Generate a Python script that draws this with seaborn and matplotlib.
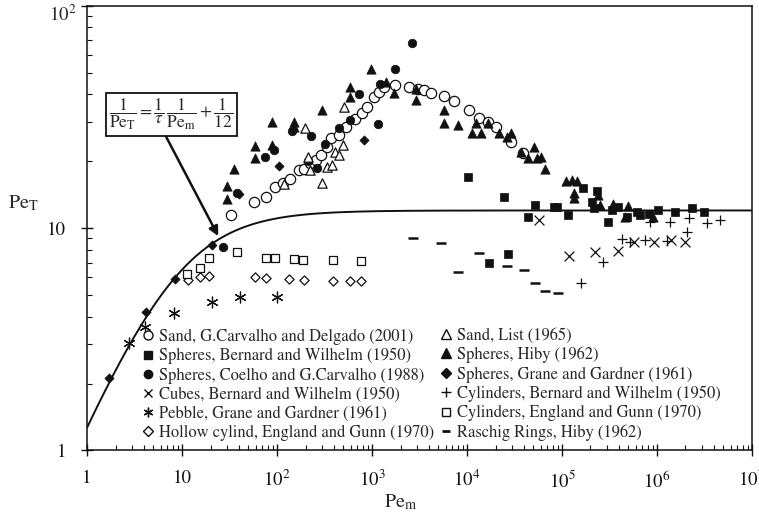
import numpy as np
import pandas as pd
import matplotlib
matplotlib.use("Agg")
import matplotlib.pyplot as plt
from matplotlib.lines import Line2D
from matplotlib.ticker import FixedLocator, FuncFormatter, NullFormatter
import seaborn as sns

# ---------------- data (Pe_m, Pe_T) ----------------
sand_gc_x = [32.8, 57.7, 77.1, 95.9, 117, 138, 172, 191, 224, 258, 291, 336, 373, 445, 536, 667, 785,
             886, 1040, 1173, 1324, 1759, 2427, 3092, 3548, 4178, 5768, 7228, 10570, 13250, 16870,
             20320, 29040, 39400]
sand_gc_y = [11.4, 13.1, 13.8, 15.3, 16.0, 16.7, 18.2, 18.4, 19.7, 20.2, 21.3, 23.1, 25.3, 26.2, 28.5,
             30.8, 33.0, 35.1, 38.9, 41.0, 42.9, 44.0, 42.9, 42.4, 41.7, 40.3, 39.2, 37.3, 33.9, 31.4,
             30.0, 28.4, 24.3, 21.7]

sand_list_x = [502, 199, 298, 336, 382, 119, 210, 224, 411, 445, 495]
sand_list_y = [35.1, 28.1, 16.0, 18.9, 19.2, 15.8, 20.9, 18.2, 22.0, 21.3, 23.6]

sph_bw_x = [10320, 24500, 52000, 43450, 81600, 88500, 116400, 166400, 233500, 206800, 218800, 305000,
            336000, 394000, 483000, 615000, 667000, 836000, 1040000, 1560000, 2335000, 3170000,
            27000, 17170]
sph_bw_y = [17.0, 13.8, 12.7, 11.2, 12.4, 12.5, 11.4, 15.2, 14.7, 13.1, 12.3, 10.6, 12.05, 12.5, 11.2,
            11.8, 11.4, 11.6, 12.1, 11.8, 12.3, 11.8, 7.62, 6.98]

sph_hiby_x = [984, 591, 591, 298, 88.6, 152, 152, 58.1, 58.1, 88.6, 35.5, 29.8, 29.8, 1403, 1718, 2926,
              2926, 5768, 5768, 8095, 12330, 11290, 14030, 16870, 22030, 26360, 29040, 37330, 50270,
              44490, 54550, 60110, 67150, 110900, 127400, 145900, 132500, 132500, 242700, 253000,
              349000, 502000, 463000, 921000]
sph_hiby_y = [51.7, 42.9, 38.9, 33.9, 29.9, 30.0, 28.5, 23.4, 20.7, 23.6, 18.4, 15.4, 13.5, 45.4, 40.6,
              42.0, 37.6, 33.9, 29.7, 29.2, 29.7, 26.7, 26.7, 29.7, 26.8, 25.7, 26.7, 22.0, 23.2, 20.6,
              20.6, 20.8, 18.5, 16.3, 16.4, 16.3, 14.4, 13.6, 14.1, 12.7, 12.8, 12.6, 11.2, 11.2]

sph_coelho_x = [27.0, 2655, 1746, 1223, 723, 1156, 445, 591, 317, 210, 264, 228, 144, 92, 75.3, 38.2]
sph_coelho_y = [8.24, 67.6, 51.8, 44.3, 40.0, 29.3, 28.1, 30.5, 24.0, 20.0, 18.7, 25.9, 27.4, 22.4,
                20.8, 14.4]

sph_grane_x = [1.72, 4.21, 8.36, 20.8, 105.7, 40.2, 832]
sph_grane_y = [2.11, 4.18, 5.90, 8.39, 19.0, 14.2, 24.9]

cubes_x = [56750, 119400, 224000, 394000, 581000, 937000, 1403000, 1986000]
cubes_y = [10.9, 7.51, 7.78, 7.88, 8.68, 8.68, 8.83, 8.68]

cyl_bw_x = [158500, 270000, 428000, 523000, 753000, 1274000, 2069000, 851000, 1380000, 2203000,
            3360000, 4637000]
cyl_bw_y = [5.64, 7.01, 8.93, 8.68, 8.83, 8.77, 9.56, 10.6, 10.6, 11.06, 10.5, 10.9]

pebble_x = [2.79, 4.04, 8.3, 20.7, 40.4, 100.7]
pebble_y = [3.03, 3.60, 4.14, 4.67, 4.91, 4.91]

cyl_eg_x = [11.4, 15.3, 19.2, 38.2, 75.9, 94.4, 152, 189, 385, 766]
cyl_eg_y = [6.23, 6.63, 7.35, 7.83, 7.35, 7.35, 7.26, 7.18, 7.20, 7.13]

hollow_x = [11.6, 15.6, 19.4, 58.7, 76.6, 135, 192, 388, 581, 771]
hollow_y = [5.84, 6.04, 6.09, 6.04, 5.98, 5.90, 5.84, 5.80, 5.80, 5.80]

raschig_x = [2703, 5360, 13250, 7965, 26360, 39450, 52400, 65600, 92000]
raschig_y = [8.99, 8.54, 7.70, 6.32, 6.77, 6.48, 5.64, 5.23, 5.09]

# model: 1/Pe_T = (1/tau)(1/Pe_m) + 1/12
tau = np.sqrt(2.0)
pe_inf = 12.0

x_decades = [0, 1, 2, 3, 4, 5, 6, 7]
y_decades = [0, 1, 2]

labels_col1 = [
    "Sand, G.Carvalho and Delgado (2001)",
    "Spheres, Bernard and Wilhelm (1950)",
    "Spheres, Coelho and G.Carvalho (1988)",
    "Cubes, Bernard and Wilhelm (1950)",
    "Pebble, Grane and Gardner (1961)",
    "Hollow cylind, England and Gunn (1970)",
]
labels_col2 = [
    "Sand, List (1965)",
    "Spheres, Hiby (1962)",
    "Spheres, Grane and Gardner (1961)",
    "Cylinders, Bernard and Wilhelm (1950)",
    "Cylinders, England and Gunn (1970)",
    "Raschig Rings, Hiby (1962)",
]

# ---------------- style ----------------
sns.set_style("ticks")
plt.rcParams["font.family"] = ["STIXGeneral", "DejaVu Serif"]
plt.rcParams["mathtext.fontset"] = "stix"

W, H = 759, 516
fig = plt.figure(figsize=(W / 100, H / 100), dpi=100)
ax = fig.add_axes([0.1146, 0.127, 0.876, 0.862])

K = "#111111"
series = [
    # x, y, marker, face, size, lw
    (sand_gc_x, sand_gc_y, "o", "white", 55, 0.9),
    (sph_bw_x, sph_bw_y, "s", K, 38, 0.5),
    (sph_coelho_x, sph_coelho_y, "o", K, 38, 0.5),
    (cubes_x, cubes_y, "x", K, 50, 0.9),
    (pebble_x, pebble_y, (6, 2, 0), K, 60, 0.9),
    (hollow_x, hollow_y, "D", "white", 22, 0.9),
    (sand_list_x, sand_list_y, "^", "white", 45, 0.9),
    (sph_hiby_x, sph_hiby_y, "^", K, 45, 0.5),
    (sph_grane_x, sph_grane_y, "D", K, 22, 0.5),
    (cyl_bw_x, cyl_bw_y, "+", K, 55, 0.9),
    (cyl_eg_x, cyl_eg_y, "s", "white", 35, 0.9),
    (raschig_x, raschig_y, "_", K, 55, 1.8),
]

for (xs, ys, m, face, s, lw) in series:
    df = pd.DataFrame({"Pe_m": xs, "Pe_T": ys})
    line_art = m in ("x", "+", "_") or isinstance(m, tuple)
    if line_art:
        sns.scatterplot(data=df, x="Pe_m", y="Pe_T", ax=ax, marker=m, s=s,
                        color=K, linewidth=lw, legend=False, zorder=3)
    else:
        sns.scatterplot(data=df, x="Pe_m", y="Pe_T", ax=ax, marker=m, s=s,
                        color=face, edgecolor=K, linewidth=lw, legend=False, zorder=3)

pem = np.logspace(0, 7, 400)
curve = pd.DataFrame({"Pe_m": pem, "Pe_T": 1.0 / (1.0 / (tau * pem) + 1.0 / pe_inf)})
sns.lineplot(data=curve, x="Pe_m", y="Pe_T", ax=ax, color=K, linewidth=1.4, zorder=2)

ax.set_xscale("log")
ax.set_yscale("log")
ax.set_xlim(1, 1e7)
ax.set_ylim(1, 100)


def fmt_x(v, pos):
    e = int(round(np.log10(v)))
    if e == 0:
        return "1"
    if e == 1:
        return "10"
    return r"$10^{%d}$" % e


def fmt_y(v, pos):
    e = int(round(np.log10(v)))
    if e == 2:
        return ""  # drawn separately (sits at the top edge)
    return fmt_x(v, pos)


def minors(decs):
    return [m * 10.0 ** d for d in decs[:-1] for m in range(2, 10)]


ax.xaxis.set_major_locator(FixedLocator([10.0 ** d for d in x_decades]))
ax.yaxis.set_major_locator(FixedLocator([10.0 ** d for d in y_decades]))
ax.xaxis.set_minor_locator(FixedLocator(minors(x_decades)))
ax.yaxis.set_minor_locator(FixedLocator(minors(y_decades)))
ax.xaxis.set_major_formatter(FuncFormatter(fmt_x))
ax.yaxis.set_major_formatter(FuncFormatter(fmt_y))
ax.xaxis.set_minor_formatter(NullFormatter())
ax.yaxis.set_minor_formatter(NullFormatter())

ax.tick_params(which="major", direction="inout", length=8, width=1.0, labelsize=13.5, colors=K,
               top=False, right=False)
ax.tick_params(which="minor", direction="in", length=3.5, width=0.8, colors=K, top=False, right=False)
ax.tick_params(axis="x", which="major", pad=10)
ax.tick_params(axis="y", which="major", pad=11)
for sp in ax.spines.values():
    sp.set_visible(True)
    sp.set_linewidth(1.1)
    sp.set_color(K)

ax.set_xlabel("")
ax.set_ylabel("")
fig.text(76 / W, 1 - 15 / H, r"$10^{2}$", fontsize=13.5, ha="right", va="center")
fig.text(0.528, 1 - 502 / H, r"$\mathrm{Pe_m}$", fontsize=14.5, ha="center", va="center")
fig.text(0.010, 1 - 203 / H, r"$\mathrm{Pe_T}$", fontsize=14.5, ha="left", va="center")

# annotation with formula box
ax.annotate(r"$\dfrac{1}{\mathrm{Pe_T}}=\dfrac{1}{\tau}\,\dfrac{1}{\mathrm{Pe_m}}+\dfrac{1}{12}$",
            xy=(24.1, 9.2), xycoords="data",
            xytext=(7.7, 32.5), textcoords="data",
            fontsize=12.5, ha="center", va="center",
            bbox=dict(boxstyle="square,pad=0.2", fc="white", ec=K, lw=1.3),
            arrowprops=dict(arrowstyle="-|>", color=K, lw=1.8, mutation_scale=14,
                            shrinkA=0, shrinkB=0, relpos=(0.44, 0.0)))


def make_handles(specs):
    hs = []
    for (m, face, ms, mew) in specs:
        hs.append(Line2D([], [], linestyle="none", marker=m, markersize=ms,
                         markerfacecolor=face, markeredgecolor=K, markeredgewidth=mew, color=K))
    return hs


specs_col1 = [
    ("o", "white", 6.5, 1.0),
    ("s", K, 6, 1.0),
    ("o", K, 6, 1.0),
    ("x", K, 6, 1.0),
    ((6, 2, 0), K, 7, 1.0),
    ("D", "white", 5, 1.0),
]
specs_col2 = [
    ("^", "white", 6.5, 1.0),
    ("^", K, 6.5, 1.0),
    ("D", K, 5, 1.0),
    ("+", K, 7, 1.0),
    ("s", "white", 5.5, 1.0),
    ("_", K, 6, 2.0),
]

leg_kw = dict(frameon=False, fontsize=11.9, handlelength=0.8, handletextpad=0.3,
              labelspacing=0.19, borderaxespad=0.0, borderpad=0.0, loc="lower left",
              bbox_transform=fig.transFigure)
leg1 = ax.legend(make_handles(specs_col1), labels_col1,
                 bbox_to_anchor=(141 / W, 1 - 441 / H), **leg_kw)
ax.add_artist(leg1)
leg2 = ax.legend(make_handles(specs_col2), labels_col2,
                 bbox_to_anchor=(439 / W, 1 - 441 / H), **leg_kw)

fig.savefig("out.png", dpi=100)
